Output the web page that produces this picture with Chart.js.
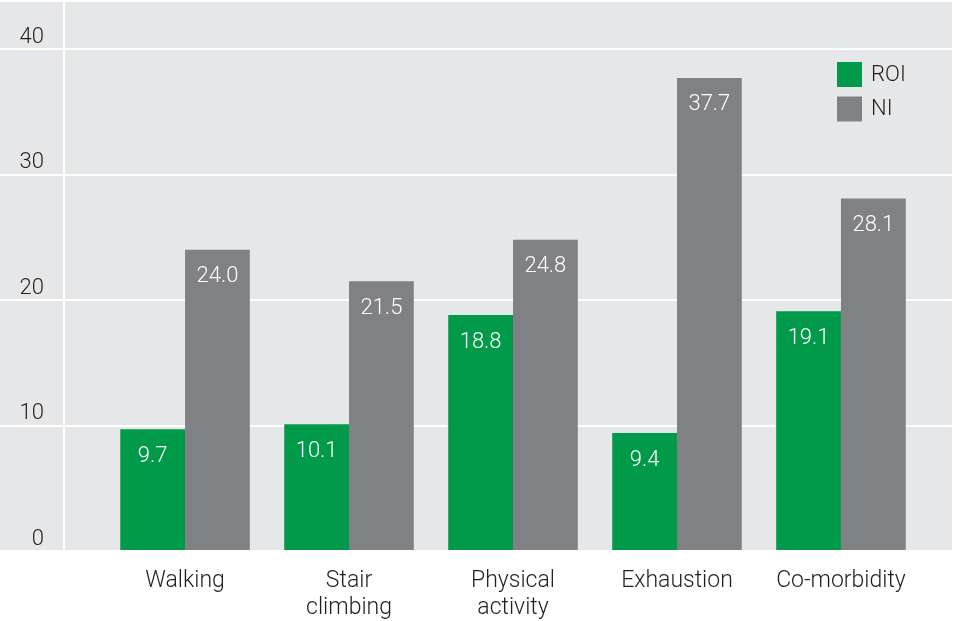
<!DOCTYPE html>
<html>
<head>
<meta charset="utf-8">
<script src="https://cdn.jsdelivr.net/npm/chart.js@4/dist/chart.umd.min.js"></script>
<style>
    html, body { margin: 0; padding: 0; background: #ffffff; }
    #wrap { width: 953px; height: 621px; }
</style>
</head>
<body>
<div id="wrap"><canvas id="myChart" width="953" height="621"></canvas></div>
<script>
// Categories on the x axis (multi-line labels as arrays)
const categories = [
    ["Walking"],
    ["Stair", "climbing"],
    ["Physical", "activity"],
    ["Exhaustion"],
    ["Co-morbidity"]
];

// Series values
const roiValues = [9.7, 10.1, 18.8, 9.4, 19.1];
const niValues = [24.0, 21.5, 24.8, 37.7, 28.1];

// Y axis tick labels
const yTicks = [0, 10, 20, 30, 40];

const GREEN = '#009a4a';
const GREY = '#808184';
const PANEL = '#e6e7e8';
const TEXT = '#231f20';
const FONT = 'Roboto, "Liberation Sans", sans-serif';

// Fill the grey panel behind the plot and tick column
const panelBackground = {
    id: 'panelBackground',
    beforeDraw(chart) {
        const ctx = chart.ctx;
        const area = chart.chartArea;
        ctx.save();
        ctx.fillStyle = PANEL;
        ctx.fillRect(0, area.top, area.right, area.bottom - area.top);
        ctx.restore();
    }
};

// White value labels near the top of each bar
const barValues = {
    id: 'barValues',
    afterDatasetsDraw(chart) {
        const ctx = chart.ctx;
        ctx.save();
        ctx.font = '300 22px ' + FONT;
        ctx.fillStyle = '#ffffff';
        ctx.textAlign = 'center';
        ctx.textBaseline = 'middle';
        chart.data.datasets.forEach((ds, i) => {
            chart.getDatasetMeta(i).data.forEach((bar, j) => {
                ctx.fillText(ds.data[j].y.toFixed(1), bar.x, bar.y + 27);
            });
        });
        ctx.restore();
    }
};

// Legend boxes in the top right corner of the plot
const cornerLegend = {
    id: 'cornerLegend',
    afterDraw(chart) {
        const ctx = chart.ctx;
        ctx.save();
        ctx.font = '300 22px ' + FONT;
        ctx.textAlign = 'left';
        ctx.textBaseline = 'middle';
        chart.data.datasets.forEach((ds, i) => {
            const y = 62 + i * 34.5;
            ctx.fillStyle = ds.backgroundColor;
            ctx.fillRect(837, y, 25, 25);
            ctx.fillStyle = TEXT;
            ctx.fillText(ds.label, 871, y + 13);
        });
        ctx.restore();
    }
};

const toPoints = values => values.map((v, i) => ({ x: i + 1, y: v }));

const ctx = document.getElementById('myChart').getContext('2d');
const myChart = new Chart(ctx, {
    type: 'bar',
    data: {
        datasets: [
            {
                label: 'ROI',
                data: toPoints(roiValues),
                backgroundColor: GREEN,
                categoryPercentage: 0.79,
                barPercentage: 1.0,
            },
            {
                label: 'NI',
                data: toPoints(niValues),
                backgroundColor: GREY,
                categoryPercentage: 0.79,
                barPercentage: 1.0,
            },
        ]
    },
    options: {
        responsive: false,
        animation: false,
        layout: { padding: { top: 2, right: 1, left: 0, bottom: 0 } },
        plugins: {
            legend: { display: false },
            tooltip: { enabled: false }
        },
        scales: {
            x: {
                type: 'linear',
                min: 0.262,
                max: 5.677,
                offset: false,
                afterBuildTicks: s => { s.ticks = categories.map((c, i) => ({ value: i + 1 })); },
                afterFit: s => { s.height = 70; },
                grid: { display: false },
                border: { display: false },
                ticks: {
                    color: TEXT,
                    font: { family: FONT, size: 23, weight: 300, lineHeight: 1.2 },
                    padding: 8,
                    maxRotation: 0,
                    autoSkip: false,
                    callback: (value) => categories[Math.round(value) - 1]
                }
            },
            y: {
                min: 0,
                max: 43.75,
                afterBuildTicks: s => { s.ticks = yTicks.map(v => ({ value: v })); },
                afterFit: s => { s.width = 64; },
                grid: {
                    color: '#ffffff',
                    lineWidth: 2,
                    drawTicks: true,
                    tickLength: 64,
                    tickColor: '#ffffff'
                },
                border: { display: true, color: '#ffffff', width: 2 },
                ticks: {
                    color: TEXT,
                    font: { family: FONT, size: 22, weight: 300 },
                    padding: -44,
                    labelOffset: -12
                }
            }
        }
    },
    plugins: [panelBackground, barValues, cornerLegend]
});
</script>
</body>
</html>
